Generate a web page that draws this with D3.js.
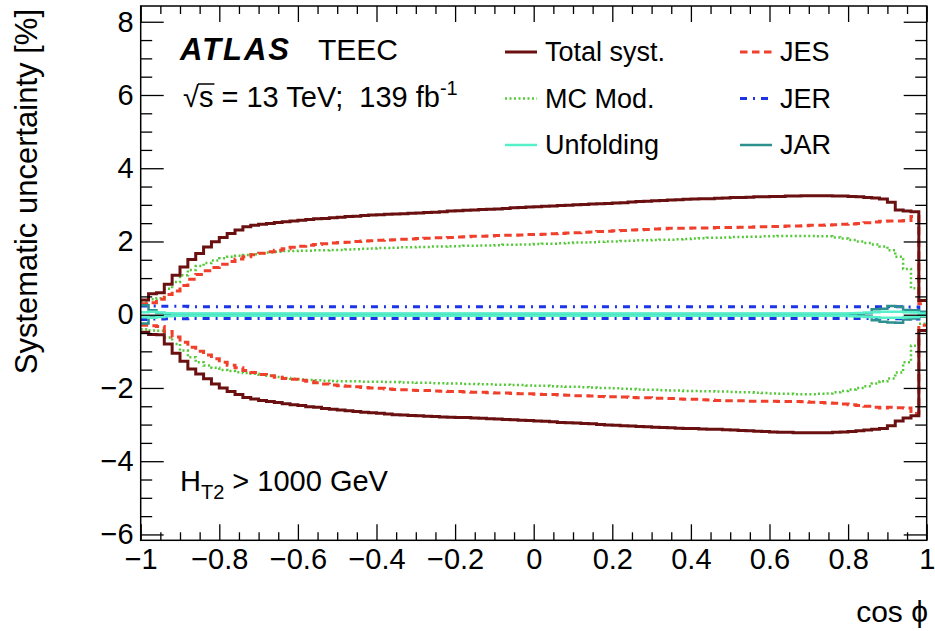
<!DOCTYPE html>
<html><head><meta charset="utf-8">
<script src="https://cdn.jsdelivr.net/npm/d3@7"></script>
<style>
body{margin:0;background:#fff;}
svg{display:block;font-family:"Liberation Sans",Arial,Helvetica,sans-serif;}
text{white-space:pre;}
</style></head><body><svg id="c" width="935" height="631"></svg>
<script>
// ---- data (100 bins in cos phi from -1 to 1) ----
const xMin = -1, xMax = 1, nBins = 100;
const yMin = -6.16, yMax = 8.43;

const totUp = [
 0.40,0.57,0.60,0.83,1.08,1.30,1.51,1.67,1.85,1.99,
 2.11,2.22,2.31,2.40,2.44,2.47,2.49,2.52,2.54,2.56,
 2.58,2.60,2.62,2.63,2.65,2.66,2.68,2.69,2.71,2.72,
 2.73,2.74,2.75,2.76,2.77,2.78,2.79,2.80,2.81,2.83,
 2.84,2.85,2.86,2.87,2.88,2.89,2.90,2.92,2.93,2.94,
 2.95,2.96,2.97,2.98,2.99,3.00,3.01,3.02,3.03,3.04,
 3.05,3.06,3.08,3.09,3.10,3.11,3.12,3.13,3.14,3.15,
 3.16,3.17,3.17,3.18,3.19,3.20,3.20,3.21,3.22,3.22,
 3.23,3.23,3.24,3.24,3.25,3.25,3.25,3.25,3.24,3.24,
 3.23,3.22,3.20,3.19,3.16,3.07,2.86,2.83,2.81,0.39];
const totDn = [
 -0.48,-0.54,-0.55,-0.80,-1.05,-1.27,-1.48,-1.62,-1.75,-1.89,
 -2.00,-2.10,-2.18,-2.26,-2.30,-2.34,-2.37,-2.40,-2.43,-2.46,
 -2.48,-2.51,-2.53,-2.56,-2.58,-2.60,-2.62,-2.64,-2.66,-2.68,
 -2.69,-2.71,-2.73,-2.74,-2.75,-2.76,-2.77,-2.78,-2.79,-2.80,
 -2.81,-2.81,-2.82,-2.83,-2.84,-2.85,-2.86,-2.87,-2.88,-2.89,
 -2.90,-2.91,-2.92,-2.94,-2.95,-2.96,-2.97,-2.98,-3.00,-3.01,
 -3.02,-3.03,-3.04,-3.05,-3.06,-3.07,-3.08,-3.09,-3.10,-3.11,
 -3.11,-3.12,-3.13,-3.13,-3.14,-3.15,-3.16,-3.17,-3.18,-3.19,
 -3.20,-3.21,-3.21,-3.22,-3.22,-3.22,-3.22,-3.22,-3.21,-3.20,
 -3.19,-3.17,-3.15,-3.13,-3.11,-3.03,-2.90,-2.82,-2.76,-0.43];
const jesUp = [
 0.30,0.33,0.42,0.55,0.65,0.80,0.97,1.10,1.20,1.29,
 1.38,1.45,1.52,1.58,1.64,1.68,1.72,1.76,1.80,1.84,
 1.87,1.90,1.92,1.94,1.96,1.97,1.98,2.00,2.01,2.02,
 2.03,2.04,2.05,2.06,2.07,2.08,2.09,2.10,2.10,2.11,
 2.12,2.13,2.14,2.14,2.15,2.16,2.17,2.17,2.18,2.19,
 2.19,2.20,2.21,2.22,2.23,2.24,2.25,2.26,2.27,2.28,
 2.29,2.30,2.31,2.32,2.33,2.34,2.35,2.36,2.36,2.36,
 2.37,2.37,2.37,2.38,2.38,2.38,2.39,2.39,2.40,2.40,
 2.41,2.41,2.42,2.42,2.43,2.44,2.44,2.45,2.46,2.47,
 2.48,2.49,2.51,2.53,2.55,2.56,2.56,2.57,2.68,0.30];
const jesDn = [
 -0.29,-0.30,-0.32,-0.46,-0.61,-0.75,-0.89,-1.00,-1.10,-1.20,
 -1.30,-1.38,-1.45,-1.52,-1.58,-1.63,-1.67,-1.71,-1.74,-1.76,
 -1.79,-1.82,-1.86,-1.89,-1.92,-1.94,-1.95,-1.97,-1.99,-2.00,
 -2.01,-2.03,-2.04,-2.05,-2.06,-2.07,-2.07,-2.08,-2.09,-2.10,
 -2.10,-2.11,-2.12,-2.12,-2.13,-2.14,-2.14,-2.15,-2.16,-2.16,
 -2.17,-2.18,-2.18,-2.19,-2.20,-2.21,-2.21,-2.22,-2.23,-2.24,
 -2.24,-2.25,-2.26,-2.27,-2.27,-2.28,-2.28,-2.29,-2.30,-2.31,
 -2.31,-2.32,-2.33,-2.34,-2.35,-2.35,-2.35,-2.36,-2.36,-2.36,
 -2.36,-2.37,-2.37,-2.37,-2.38,-2.39,-2.40,-2.41,-2.42,-2.44,
 -2.46,-2.48,-2.50,-2.53,-2.55,-2.53,-2.54,-2.55,-2.70,-0.29];
const mcUp = [
 0.35,0.42,0.45,0.71,0.89,1.08,1.22,1.33,1.41,1.48,
 1.54,1.58,1.61,1.63,1.65,1.67,1.70,1.72,1.74,1.74,
 1.75,1.75,1.76,1.76,1.77,1.77,1.78,1.79,1.80,1.81,
 1.82,1.82,1.83,1.84,1.84,1.85,1.85,1.86,1.86,1.87,
 1.87,1.88,1.88,1.89,1.89,1.90,1.91,1.91,1.92,1.92,
 1.93,1.94,1.94,1.95,1.96,1.97,1.97,1.98,1.99,2.00,
 2.00,2.01,2.02,2.03,2.03,2.04,2.05,2.05,2.06,2.07,
 2.08,2.09,2.10,2.10,2.11,2.12,2.12,2.13,2.13,2.14,
 2.14,2.15,2.15,2.15,2.15,2.15,2.14,2.14,2.11,2.08,
 2.04,2.00,1.96,1.92,1.86,1.76,1.58,1.25,0.72,0.40];
const mcDn = [
 -0.40,-0.43,-0.44,-0.62,-0.80,-0.98,-1.16,-1.30,-1.39,-1.45,
 -1.51,-1.54,-1.57,-1.59,-1.61,-1.64,-1.67,-1.70,-1.73,-1.75,
 -1.77,-1.78,-1.79,-1.80,-1.81,-1.82,-1.82,-1.82,-1.83,-1.83,
 -1.83,-1.84,-1.84,-1.85,-1.85,-1.86,-1.86,-1.87,-1.87,-1.88,
 -1.88,-1.89,-1.89,-1.90,-1.90,-1.91,-1.91,-1.92,-1.92,-1.93,
 -1.94,-1.94,-1.95,-1.96,-1.97,-1.97,-1.98,-1.99,-2.00,-2.00,
 -2.01,-2.02,-2.03,-2.04,-2.05,-2.05,-2.06,-2.07,-2.07,-2.08,
 -2.08,-2.09,-2.09,-2.10,-2.10,-2.11,-2.12,-2.12,-2.13,-2.14,
 -2.15,-2.16,-2.16,-2.17,-2.17,-2.17,-2.16,-2.15,-2.12,-2.08,
 -2.04,-2.00,-1.95,-1.88,-1.82,-1.74,-1.58,-1.30,-0.85,-0.25];
const jerUp = [
 0.24,0.24,0.23,0.23,0.23,0.23,0.22,0.22,0.22,0.22,
 0.22,0.22,0.22,0.22,0.22,0.22,0.22,0.22,0.22,0.22,
 0.22,0.22,0.22,0.22,0.22,0.22,0.22,0.22,0.22,0.22,
 0.22,0.22,0.22,0.22,0.22,0.22,0.22,0.22,0.22,0.22,
 0.22,0.22,0.22,0.22,0.22,0.22,0.22,0.22,0.22,0.22,
 0.22,0.22,0.22,0.22,0.22,0.22,0.22,0.22,0.22,0.22,
 0.22,0.22,0.22,0.22,0.22,0.22,0.22,0.22,0.22,0.22,
 0.22,0.22,0.22,0.22,0.22,0.22,0.22,0.22,0.22,0.22,
 0.22,0.22,0.22,0.22,0.22,0.22,0.22,0.22,0.22,0.22,
 0.22,0.22,0.22,0.22,0.22,0.22,0.22,0.21,0.21,0.05];
const jerDn = [
 -0.13,-0.12,-0.12,-0.11,-0.11,-0.11,-0.10,-0.10,-0.10,-0.10,
 -0.10,-0.10,-0.10,-0.10,-0.10,-0.10,-0.10,-0.10,-0.10,-0.10,
 -0.10,-0.10,-0.10,-0.10,-0.10,-0.10,-0.10,-0.10,-0.10,-0.10,
 -0.10,-0.10,-0.10,-0.10,-0.10,-0.10,-0.10,-0.10,-0.10,-0.10,
 -0.10,-0.10,-0.10,-0.10,-0.10,-0.10,-0.10,-0.10,-0.10,-0.10,
 -0.10,-0.10,-0.10,-0.10,-0.10,-0.10,-0.10,-0.10,-0.10,-0.10,
 -0.10,-0.10,-0.10,-0.10,-0.10,-0.10,-0.10,-0.10,-0.10,-0.10,
 -0.10,-0.10,-0.10,-0.10,-0.10,-0.10,-0.10,-0.10,-0.10,-0.10,
 -0.10,-0.10,-0.10,-0.10,-0.10,-0.10,-0.10,-0.10,-0.10,-0.10,
 -0.10,-0.10,-0.10,-0.10,-0.11,-0.11,-0.11,-0.11,-0.12,-0.04];
const unfUp = [
 0.07,0.08,0.06,0.04,0.03,0.03,0.03,0.03,0.03,0.03,
 0.03,0.03,0.03,0.03,0.03,0.03,0.03,0.03,0.03,0.03,
 0.03,0.03,0.03,0.03,0.03,0.03,0.03,0.03,0.03,0.03,
 0.03,0.03,0.03,0.03,0.03,0.03,0.03,0.03,0.03,0.03,
 0.03,0.03,0.03,0.03,0.03,0.03,0.03,0.03,0.03,0.03,
 0.03,0.03,0.03,0.03,0.03,0.03,0.03,0.03,0.03,0.03,
 0.03,0.03,0.03,0.03,0.03,0.03,0.03,0.03,0.03,0.03,
 0.03,0.03,0.03,0.03,0.03,0.03,0.03,0.03,0.03,0.03,
 0.03,0.03,0.03,0.03,0.03,0.03,0.03,0.03,0.03,0.03,
 0.04,0.05,0.06,0.07,0.08,0.08,0.08,0.07,0.06,0.03];
const unfDn = [
 -0.07,-0.08,-0.06,-0.04,-0.03,-0.03,-0.03,-0.03,-0.03,-0.03,
 -0.03,-0.03,-0.03,-0.03,-0.03,-0.03,-0.03,-0.03,-0.03,-0.03,
 -0.03,-0.03,-0.03,-0.03,-0.03,-0.03,-0.03,-0.03,-0.03,-0.03,
 -0.03,-0.03,-0.03,-0.03,-0.03,-0.03,-0.03,-0.03,-0.03,-0.03,
 -0.03,-0.03,-0.03,-0.03,-0.03,-0.03,-0.03,-0.03,-0.03,-0.03,
 -0.03,-0.03,-0.03,-0.03,-0.03,-0.03,-0.03,-0.03,-0.03,-0.03,
 -0.03,-0.03,-0.03,-0.03,-0.03,-0.03,-0.03,-0.03,-0.03,-0.03,
 -0.03,-0.03,-0.03,-0.03,-0.03,-0.03,-0.03,-0.03,-0.03,-0.03,
 -0.03,-0.03,-0.03,-0.03,-0.03,-0.03,-0.03,-0.03,-0.03,-0.03,
 -0.04,-0.05,-0.06,-0.07,-0.08,-0.08,-0.08,-0.07,-0.06,-0.03];
const jarUp = [
 0.26,0.12,0.05,0.02,0.02,0.02,0.02,0.02,0.02,0.02,
 0.02,0.02,0.02,0.02,0.02,0.02,0.02,0.02,0.02,0.02,
 0.02,0.02,0.02,0.02,0.02,0.02,0.02,0.02,0.02,0.02,
 0.02,0.02,0.02,0.02,0.02,0.02,0.02,0.02,0.02,0.02,
 0.02,0.02,0.02,0.02,0.02,0.02,0.02,0.02,0.02,0.02,
 0.02,0.02,0.02,0.02,0.02,0.02,0.02,0.02,0.02,0.02,
 0.02,0.02,0.02,0.02,0.02,0.02,0.02,0.02,0.02,0.02,
 0.02,0.02,0.02,0.02,0.02,0.02,0.02,0.02,0.02,0.02,
 0.02,0.02,0.02,0.02,0.02,0.02,0.02,0.02,0.02,0.02,
 0.02,0.02,0.04,0.15,0.16,0.24,0.22,0.13,0.12,0.08];
const jarDn = [
 -0.24,-0.06,-0.04,-0.02,-0.02,-0.02,-0.02,-0.02,-0.02,-0.02,
 -0.02,-0.02,-0.02,-0.02,-0.02,-0.02,-0.02,-0.02,-0.02,-0.02,
 -0.02,-0.02,-0.02,-0.02,-0.02,-0.02,-0.02,-0.02,-0.02,-0.02,
 -0.02,-0.02,-0.02,-0.02,-0.02,-0.02,-0.02,-0.02,-0.02,-0.02,
 -0.02,-0.02,-0.02,-0.02,-0.02,-0.02,-0.02,-0.02,-0.02,-0.02,
 -0.02,-0.02,-0.02,-0.02,-0.02,-0.02,-0.02,-0.02,-0.02,-0.02,
 -0.02,-0.02,-0.02,-0.02,-0.02,-0.02,-0.02,-0.02,-0.02,-0.02,
 -0.02,-0.02,-0.02,-0.02,-0.02,-0.02,-0.02,-0.02,-0.02,-0.02,
 -0.02,-0.02,-0.02,-0.02,-0.02,-0.02,-0.02,-0.02,-0.02,-0.02,
 -0.02,-0.02,-0.05,-0.15,-0.19,-0.21,-0.22,-0.13,-0.10,-0.05];

const xTickValues = [-1,-0.8,-0.6,-0.4,-0.2,0,0.2,0.4,0.6,0.8,1];
const xTickLabels = ["\u22121","\u22120.8","\u22120.6","\u22120.4","\u22120.2","0","0.2","0.4","0.6","0.8","1"];
const yTickValues = [-6,-4,-2,0,2,4,6,8];
const yTickLabels = ["\u22126","\u22124","\u22122","0","2","4","6","8"];

const legendLabels = ["Total syst.","JES","MC Mod.","JER","Unfolding","JAR"];

// ---- layout ----
const W = 935, H = 631;
const m = {left:140.7, right:8.3, top:6, bottom:90.7};
const svg = d3.select("#c");
const x = d3.scaleLinear().domain([xMin,xMax]).range([m.left, W-m.right]);
const y = d3.scaleLinear().domain([yMin,yMax]).range([H-m.bottom, m.top]);

const styles = {
  tot: {color:"#6a1010", width:3, dash:null},
  jes: {color:"#f0402c", width:3, dash:"7.5,4.5"},
  mc:  {color:"#55c83a", width:2.5, dash:"2,2.5"},
  jer: {color:"#1c34e6", width:3, dash:"7,6,2,6"},
  unf: {color:"#55efca", width:2.5, dash:null},
  jar: {color:"#2e8f8f", width:2.5, dash:null}
};

const binW = (xMax-xMin)/nBins;
const edges = d3.range(nBins+1).map(i => xMin + i*binW);
const stepLine = d3.line().x(d=>x(d[0])).y(d=>y(d[1])).curve(d3.curveStepAfter);
function stepPts(vals){ return edges.map((e,i)=>[e, vals[Math.min(i, vals.length-1)]]); }

svg.append("defs").append("clipPath").attr("id","frameClip")
  .append("rect").attr("x",m.left).attr("y",m.top)
  .attr("width",W-m.left-m.right).attr("height",H-m.top-m.bottom);

const plot = svg.append("g").attr("clip-path","url(#frameClip)");
const series = [
  ["mc", mcUp], ["mc", mcDn],
  ["jes", jesUp], ["jes", jesDn],
  ["tot", totUp], ["tot", totDn],
  ["jer", jerUp], ["jer", jerDn],
  ["jar", jarUp], ["jar", jarDn],
  ["unf", unfUp], ["unf", unfDn]
];
series.forEach(([k, vals]) => {
  const s = styles[k];
  plot.append("path").attr("d", stepLine(stepPts(vals)))
    .attr("fill","none").attr("stroke",s.color).attr("stroke-width",s.width)
    .attr("stroke-dasharray", s.dash).attr("stroke-linejoin","miter");
});

// ---- axes ----
const fs = 29;
const xMinor = d3.range(-1, 1.0001, 0.05).map(v=>+v.toFixed(2)).filter(v=>!xTickValues.some(t=>Math.abs(t-v)<1e-6));
const yMinor = d3.range(-6, 8.01, 0.5).filter(v=>!yTickValues.includes(v));

function styleAxis(g){ g.select(".domain").remove(); g.selectAll("line").attr("stroke","#000").attr("stroke-width",1.3); g.selectAll("text").attr("font-size",fs).attr("font-family","'Liberation Sans',Arial,sans-serif").attr("fill","#000"); }

svg.append("g").attr("transform",`translate(0,${H-m.bottom})`)
  .call(d3.axisBottom(x).tickValues(xTickValues).tickSizeInner(-16).tickSizeOuter(0).tickPadding(8).tickFormat((d,i)=>xTickLabels[i])).call(styleAxis);
svg.append("g").attr("transform",`translate(0,${H-m.bottom})`)
  .call(d3.axisBottom(x).tickValues(xMinor).tickSizeInner(-8).tickSizeOuter(0).tickFormat("")).call(styleAxis);
svg.append("g").attr("transform",`translate(0,${m.top})`)
  .call(d3.axisTop(x).tickValues(xTickValues).tickSizeInner(-16).tickSizeOuter(0).tickFormat("")).call(styleAxis);
svg.append("g").attr("transform",`translate(0,${m.top})`)
  .call(d3.axisTop(x).tickValues(xMinor).tickSizeInner(-8).tickSizeOuter(0).tickFormat("")).call(styleAxis);

svg.append("g").attr("transform",`translate(${m.left},0)`)
  .call(d3.axisLeft(y).tickValues(yTickValues).tickSizeInner(-23).tickSizeOuter(0).tickPadding(7).tickFormat((d,i)=>yTickLabels[i])).call(styleAxis);
svg.append("g").attr("transform",`translate(${m.left},0)`)
  .call(d3.axisLeft(y).tickValues(yMinor).tickSizeInner(-11.5).tickSizeOuter(0).tickFormat("")).call(styleAxis);
svg.append("g").attr("transform",`translate(${W-m.right},0)`)
  .call(d3.axisRight(y).tickValues(yTickValues).tickSizeInner(-23).tickSizeOuter(0).tickFormat("")).call(styleAxis);
svg.append("g").attr("transform",`translate(${W-m.right},0)`)
  .call(d3.axisRight(y).tickValues(yMinor).tickSizeInner(-11.5).tickSizeOuter(0).tickFormat("")).call(styleAxis);

svg.append("rect").attr("x",m.left).attr("y",m.top)
  .attr("width",W-m.left-m.right).attr("height",H-m.top-m.bottom)
  .attr("fill","none").attr("stroke","#000").attr("stroke-width",1.5);

// axis titles
svg.append("text").attr("transform","translate(37,9) rotate(-90)")
  .attr("text-anchor","end").attr("font-size",31).text("Systematic uncertainty [%]");
svg.append("text").attr("x",928).attr("y",622).attr("text-anchor","end")
  .attr("font-size",30).text("cos \u03D5");

// ---- labels ----
svg.append("text").attr("x",180).attr("y",60).attr("font-size",31)
  .attr("font-weight","bold").attr("font-style","italic").attr("letter-spacing",2).text("ATLAS");
svg.append("text").attr("x",318).attr("y",60).attr("font-size",30).text("TEEC");

const lumi = svg.append("text").attr("x",183).attr("y",107).attr("font-size",29);
lumi.append("tspan").text("\u221As = 13 TeV;  139 fb");
lumi.append("tspan").attr("font-size",20).attr("dy",-12).text("-1");
{
  const node = lumi.node();
  const a = node.getSubStringLength(0,1), b = node.getSubStringLength(0,2);
  svg.append("line").attr("x1",183+a-1).attr("x2",183+b+1)
    .attr("y1",107-23).attr("y2",107-23).attr("stroke","#000").attr("stroke-width",1.5);
}

const ht = svg.append("text").attr("x",180).attr("y",491).attr("font-size",29);
ht.append("tspan").text("H");
ht.append("tspan").attr("font-size",20).attr("dy",8).text("T2");
ht.append("tspan").attr("dy",-8).text(" > 1000 GeV");

// ---- legend ----
const legKeys = ["tot","jes","mc","jer","unf","jar"];
const legRowY = [52, 98.5, 145];
const legColX = [505, 740];
legendLabels.forEach((lab,i) => {
  const col = i%2, row = Math.floor(i/2);
  const s = styles[legKeys[i]];
  const lx = legColX[col], ly = legRowY[row];
  svg.append("line").attr("x1",lx).attr("x2",lx+32).attr("y1",ly).attr("y2",ly)
    .attr("stroke",s.color).attr("stroke-width",s.width).attr("stroke-dasharray",s.dash);
  svg.append("text").attr("x",lx+40).attr("y",ly+9).attr("font-size",27).text(lab);
});
</script></body></html>
